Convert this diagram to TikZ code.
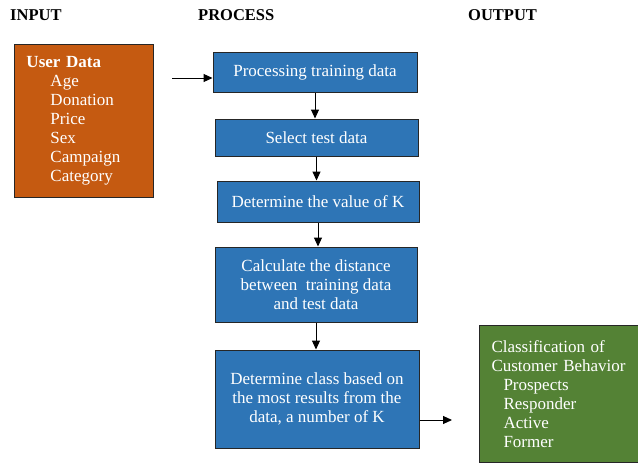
\documentclass[tikz,border=0pt]{standalone}
\usepackage{fontspec}
\setmainfont{Liberation Serif}
\usetikzlibrary{arrows.meta}
\definecolor{procblue}{HTML}{2E75B6}
\definecolor{inorange}{HTML}{C55A11}
\definecolor{outgreen}{HTML}{548235}
\tikzset{
  txt/.style={font=\fontsize{17}{19}\selectfont},
  heading/.style={txt, font=\fontsize{16.5}{19}\selectfont\bfseries, anchor=base west, inner sep=0pt},
  procbox/.style={txt, draw=black!85, line width=1pt, fill=procblue, text=white, align=center, inner sep=2pt},
  sidebox/.style={txt, draw=black!85, line width=1pt, text=white, align=left, inner ysep=0pt, inner xsep=12pt, anchor=north west},
  flow/.style={line width=1pt, -{Triangle[length=9pt,width=8pt]}}
}
\begin{document}
\begin{tikzpicture}[x=1pt,y=-1pt]
\useasboundingbox (0,0) rectangle (638,463);
% headings
\node[heading] (hin) at (10,20) {INPUT};
\node[heading] (hproc) at (198,20) {PROCESS};
\node[heading] (hout) at (468,20) {OUTPUT};
% input box
\node[sidebox, fill=inorange, text width=115pt, minimum height=153pt] (input) at (14,44)
  {\textbf{User Data}\\
   \hspace*{24pt}Age\\
   \hspace*{24pt}Donation\\
   \hspace*{24pt}Price\\
   \hspace*{24pt}Sex\\
   \hspace*{24pt}Campaign\\
   \hspace*{24pt}Category};
% process boxes
\node[procbox, minimum width=204pt, minimum height=40pt] (b1) at (315,72) {Processing training data};
\node[procbox, minimum width=203pt, minimum height=37pt] (b2) at (316.5,137.5) {Select test data};
\node[procbox, minimum width=202pt, minimum height=41pt] (b3) at (318,201.5) {Determine the value of K};
\node[procbox, minimum width=202pt, minimum height=75pt] (b4) at (316,284.5) {Calculate the distance\\between~ training data\\and test data};
\node[procbox, minimum width=204pt, minimum height=98pt] (b5) at (317,399) {Determine class based on\\the most results from the\\data, a number of K};
% output box
\node[sidebox, fill=outgreen, text width=135pt, minimum height=137pt] (output) at (479,325)
  {Classification of\\
   Customer Behavior\\
   \hspace*{12pt}Prospects\\
   \hspace*{12pt}Responder\\
   \hspace*{12pt}Active\\
   \hspace*{12pt}Former};
% connectors
\coordinate (inarrow) at (172,78);
\coordinate (outarrow) at (452,420);
\draw[flow] (inarrow) -- (inarrow -| b1.west);
\draw[flow] (b1.south) -- (b1.south |- b2.north);
\draw[flow] (b2.south) -- (b2.south |- b3.north);
\draw[flow] (b3.south) -- (b3.south |- b4.north);
\draw[flow] (b4.south) -- (b4.south |- b5.north);
\draw[flow] (b5.east |- outarrow) -- (outarrow);
\end{tikzpicture}
\end{document}
